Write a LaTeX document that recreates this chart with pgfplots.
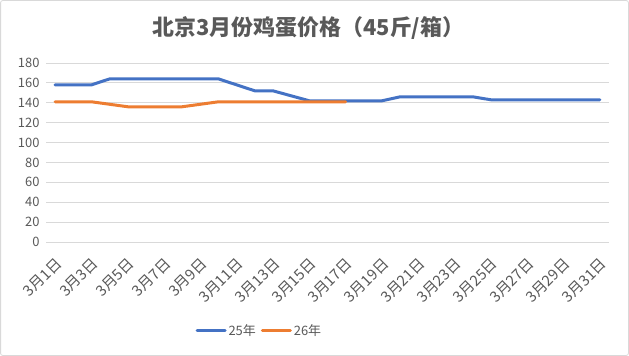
\documentclass[border=0pt]{standalone}
\usepackage{pgfplots}
\pgfplotsset{compat=1.18}
\usepackage{fontspec}
\setmainfont{Noto Sans CJK SC}
\definecolor{xlblue}{HTML}{4472C4}
\definecolor{xlorange}{HTML}{ED7D31}
\definecolor{xlgrid}{HTML}{D9D9D9}
\definecolor{xltext}{HTML}{595959}
\pgfplotstableread{
day v
1 158
2 158
3 158
4 164
5 164
6 164
7 164
8 164
9 164
10 164
11 158
12 152
13 152
14 147
15 142
16 142
17 142
18 142
19 142
20 146
21 146
22 146
23 146
24 146
25 143
26 143
27 143
28 143
29 143
30 143
31 143
}\seriesA
\pgfplotstableread{
day v
1 141
2 141
3 141
4 138.5
5 136
6 136
7 136
8 136
9 138.5
10 141
11 141
12 141
13 141
14 141
15 141
16 141
17 141
}\seriesB
\begin{document}
\begin{tikzpicture}
\useasboundingbox (0,0) rectangle (629bp,356bp);
\draw[xlgrid, line width=0.8bp, rounded corners=2bp] (0.6bp,0.6bp) rectangle (628.4bp,355.4bp);
\node[font=\fontsize{22}{26}\selectfont\bfseries, text=xltext] at (308.5bp,328bp) {北京3月份鸡蛋价格（45斤/箱）};
\begin{axis}[
  at={(46bp,114bp)}, anchor=south west,
  scale only axis, width=563bp, height=179bp,
  xmin=0.5, xmax=31.5, ymin=0, ymax=180,
  ytick={0,20,...,180},
  xtick={1,3,...,31},
  xticklabels={3月1日,3月3日,3月5日,3月7日,3月9日,3月11日,3月13日,3月15日,3月17日,3月19日,3月21日,3月23日,3月25日,3月27日,3月29日,3月31日},
  major x tick style={draw=none},
  extra x ticks={0.5,2.5,...,30.5},
  extra x tick labels={},
  extra x tick style={major tick length=5bp, tick style={draw=xlgrid, line width=0.8bp}, tick align=outside, grid=none},
  ymajorgrids, grid style={xlgrid, line width=0.8bp},
  axis y line*=left, y axis line style={draw=none},
  axis x line*=bottom, x axis line style={xlgrid, line width=0.8bp},
  ytick style={draw=none},
  tick label style={font=\fontsize{13}{15}\selectfont, text=xltext},
  xticklabel style={font=\fontsize{15}{17}\selectfont, xshift=4bp, yshift=-19bp, rotate=45, anchor=east, inner sep=0pt},
  yticklabel style={xshift=-3bp},
  /pgf/number format/assume math mode=true,
  legend style={at={(0.379,-0.497)}, anchor=center, draw=none, font=\fontsize{13}{15}\selectfont, text=xltext, legend columns=2, /tikz/every even column/.append style={column sep=3bp}},
  legend image code/.code={\draw[#1, line width=3bp, line cap=round] (0bp,0bp) -- (28bp,0bp);},
]
\addplot[xlblue, line width=3bp, line join=round, line cap=round] table[x=day, y=v] {\seriesA};
\addlegendentry{25年}
\addplot[xlorange, line width=3bp, line join=round, line cap=round] table[x=day, y=v] {\seriesB};
\addlegendentry{26年}
\end{axis}
\end{tikzpicture}
\end{document}
